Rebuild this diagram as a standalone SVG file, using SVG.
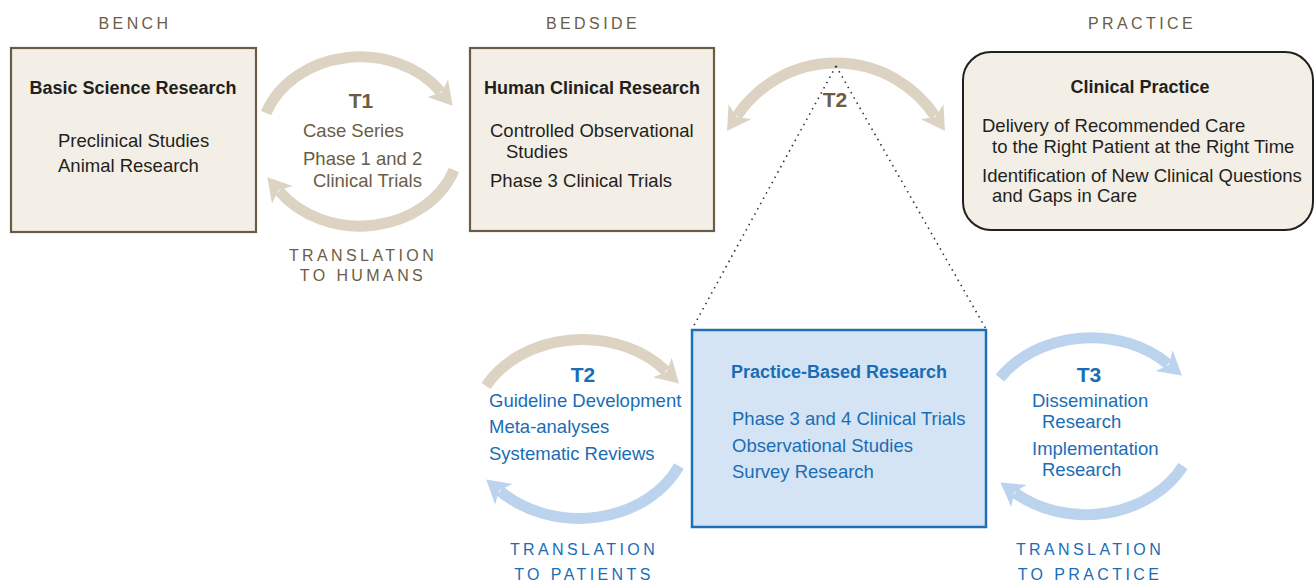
<svg xmlns="http://www.w3.org/2000/svg" width="1315" height="583" viewBox="0 0 1315 583">
<style>
text{font-family:"Liberation Sans",Arial,sans-serif;}
.hdr{font-size:16px;letter-spacing:3.4px;fill:#6b5d45;text-anchor:middle;}
.hdrb{font-size:16px;letter-spacing:3.4px;fill:#1a6db5;text-anchor:middle;}
.title{font-size:18px;font-weight:bold;fill:#231f20;text-anchor:middle;}
.body{font-size:18.5px;fill:#231f20;}
.brown{font-size:18.5px;fill:#6b5d45;}
.blue{font-size:18.5px;fill:#1a6db5;}
.btitle{font-size:18px;font-weight:bold;fill:#1a6db5;text-anchor:middle;}
.tb{font-size:21px;font-weight:bold;fill:#6b5d45;text-anchor:middle;}
.tbb{font-size:21px;font-weight:bold;fill:#1a6db5;text-anchor:middle;}
.boxb{fill:#f3efe6;stroke:#6b5d45;stroke-width:2.2;}
.boxk{fill:#f3efe6;stroke:#231f20;stroke-width:2;}
.boxblue{fill:#d4e4f4;stroke:#1f70b8;stroke-width:2.5;}
.arcb{fill:none;stroke:#ddd3c3;stroke-width:11;}
.arcl{fill:none;stroke:#bcd3ee;stroke-width:11;}
.dot{fill:none;stroke:#333;stroke-width:1.6;stroke-dasharray:1.5 4.5;}
</style>
<defs>
<marker id="hb" viewBox="0 0 23 27" markerUnits="userSpaceOnUse" markerWidth="23" markerHeight="27" refX="5" refY="13.5" orient="auto-start-reverse">
<path d="M0,0 L23,13.5 L0,27 L6,13.5 Z" fill="#ddd3c3"/>
</marker>
<marker id="hl" viewBox="0 0 23 27" markerUnits="userSpaceOnUse" markerWidth="23" markerHeight="27" refX="5" refY="13.5" orient="auto">
<path d="M0,0 L23,13.5 L0,27 L6,13.5 Z" fill="#bcd3ee"/>
</marker>
</defs>

<g id="headers">
<text class="hdr" x="135" y="29">BENCH</text>
<text class="hdr" x="593" y="29">BEDSIDE</text>
<text class="hdr" x="1142" y="29">PRACTICE</text>
</g>

<g id="connectors">
<path class="arcb" d="M266,113 A100 85 0 0 1 441,92" marker-end="url(#hb)"/>
<path class="arcb" d="M454,170 A100 85 0 0 1 279,191" marker-end="url(#hb)"/>
<path class="arcb" d="M737,116 A119 119 0 0 1 935,116" marker-start="url(#hb)" marker-end="url(#hb)"/>
<path class="arcb" d="M486,386 A110 90 0 0 1 666,371" marker-end="url(#hb)"/>
<path class="arcl" d="M679,466 A110 90 0 0 1 500,491" marker-end="url(#hl)"/>
<path class="arcl" d="M1000,378 A110 92 0 0 1 1168,364" marker-end="url(#hl)"/>
<path class="arcl" d="M1183,466 A110 92 0 0 1 1015,493" marker-end="url(#hl)"/>
<path class="dot" d="M836,66 L692,329"/>
<path class="dot" d="M836,66 L986,329"/>
</g>

<g id="bench">
<rect class="boxb" x="11" y="48" width="245" height="184"/>
<text class="title" x="133" y="94">Basic Science Research</text>
<text class="body" x="58" y="147">Preclinical Studies</text>
<text class="body" x="58" y="172">Animal Research</text>
</g>

<g id="t1">
<text class="tb" x="361" y="108">T1</text>
<text class="brown" x="303" y="137">Case Series</text>
<text class="brown" x="303" y="165">Phase 1 and 2</text>
<text class="brown" x="313" y="187">Clinical Trials</text>
<text class="hdr" x="363" y="261">TRANSLATION</text>
<text class="hdr" x="363" y="281">TO HUMANS</text>
</g>

<g id="bedside">
<rect class="boxb" x="470" y="48" width="244" height="183"/>
<text class="title" x="592" y="94">Human Clinical Research</text>
<text class="body" x="490" y="137">Controlled Observational</text>
<text class="body" x="506" y="158">Studies</text>
<text class="body" x="490" y="187">Phase 3 Clinical Trials</text>
</g>

<g id="t2top">
<text class="tb" x="835" y="107">T2</text>
</g>

<g id="practice">
<rect class="boxk" x="963" y="52" width="350" height="178" rx="28" ry="28"/>
<text class="title" x="1140" y="93">Clinical Practice</text>
<text class="body" x="982" y="132">Delivery of Recommended Care</text>
<text class="body" x="992" y="153">to the Right Patient at the Right Time</text>
<text class="body" x="982" y="182">Identification of New Clinical Questions</text>
<text class="body" x="992" y="202">and Gaps in Care</text>
</g>

<g id="t2bottom">
<text class="tbb" x="583" y="382">T2</text>
<text class="blue" x="489" y="407">Guideline Development</text>
<text class="blue" x="489" y="433">Meta-analyses</text>
<text class="blue" x="489" y="460">Systematic Reviews</text>
<text class="hdrb" x="584" y="555">TRANSLATION</text>
<text class="hdrb" x="584" y="580">TO PATIENTS</text>
</g>

<g id="practice-based">
<rect class="boxblue" x="692" y="330" width="294" height="197"/>
<text class="btitle" x="839" y="378">Practice-Based Research</text>
<text class="blue" x="732" y="425">Phase 3 and 4 Clinical Trials</text>
<text class="blue" x="732" y="452">Observational Studies</text>
<text class="blue" x="732" y="478">Survey Research</text>
</g>

<g id="t3">
<text class="tbb" x="1089" y="382">T3</text>
<text class="blue" x="1032" y="407">Dissemination</text>
<text class="blue" x="1042" y="428">Research</text>
<text class="blue" x="1032" y="455">Implementation</text>
<text class="blue" x="1042" y="476">Research</text>
<text class="hdrb" x="1090" y="555">TRANSLATION</text>
<text class="hdrb" x="1090" y="580">TO PRACTICE</text>
</g>
</svg>
